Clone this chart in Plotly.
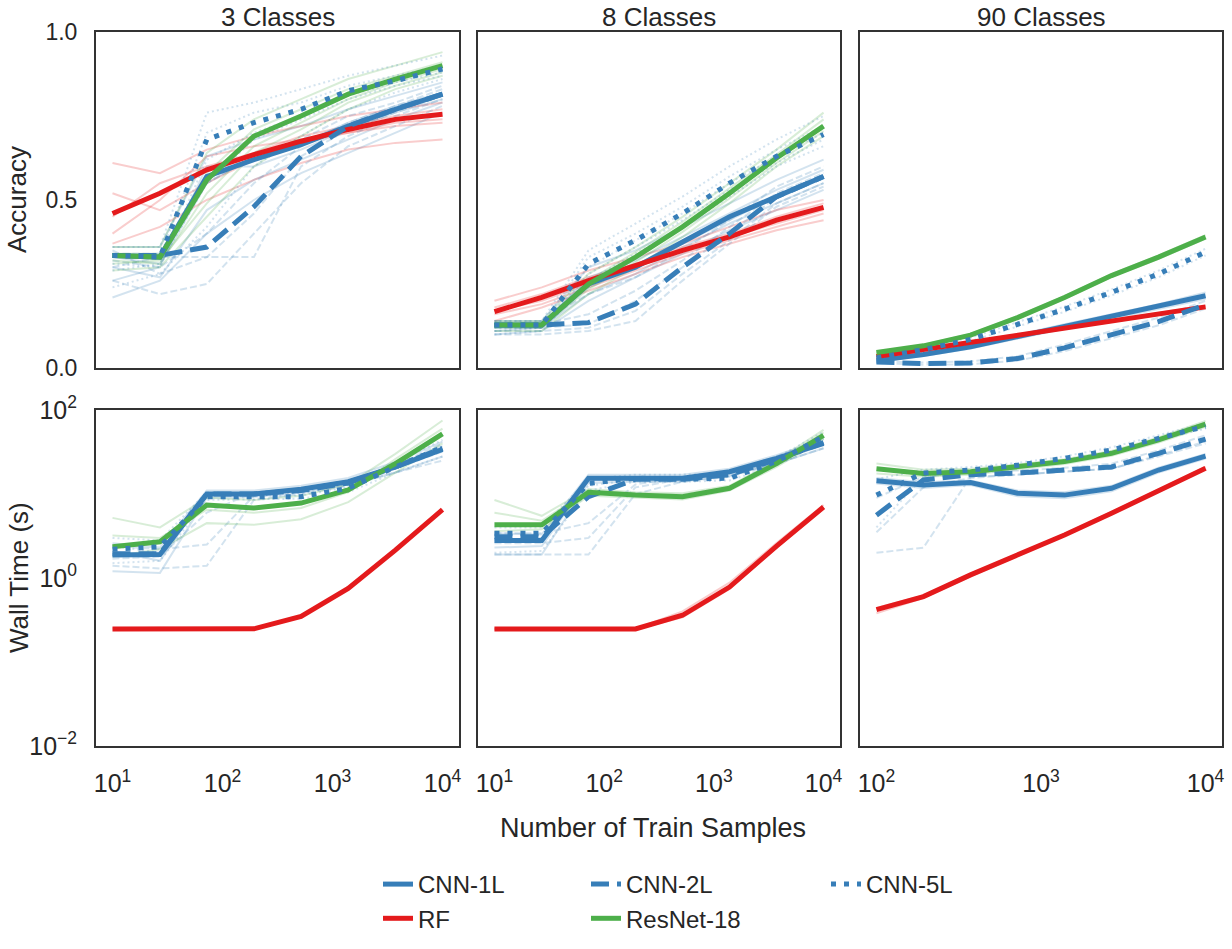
import plotly.graph_objects as go

# ---------------- data ----------------
MODELS = ["CNN-1L", "CNN-2L", "CNN-5L", "RF", "ResNet-18"]
X_SMALL = [10, 27, 72, 193, 518, 1389, 3728, 10000]      # 3 and 8 classes
X_LARGE = [100, 193, 373, 720, 1389, 2683, 5179, 10000]  # 90 classes
COL_TITLES = ["3 Classes", "8 Classes", "90 Classes"]

# Accuracy, 3 classes (mean curves)
acc3_cnn1 = [0.335, 0.33, 0.57, 0.62, 0.665, 0.72, 0.77, 0.815]
acc3_cnn2 = [0.335, 0.335, 0.36, 0.48, 0.63, 0.72, 0.77, 0.815]
acc3_cnn5 = [0.335, 0.33, 0.68, 0.73, 0.77, 0.825, 0.855, 0.89]
acc3_rf = [0.46, 0.52, 0.59, 0.635, 0.675, 0.71, 0.74, 0.755]
acc3_resnet = [0.335, 0.33, 0.56, 0.69, 0.75, 0.815, 0.86, 0.90]
# individual trials (faint)
acc3_cnn1_trials = [[0.36, 0.36, 0.63, 0.68, 0.72, 0.77, 0.81, 0.85],
                    [0.33, 0.31, 0.55, 0.63, 0.67, 0.73, 0.78, 0.82],
                    [0.30, 0.27, 0.47, 0.56, 0.62, 0.68, 0.74, 0.79],
                    [0.26, 0.30, 0.60, 0.60, 0.65, 0.71, 0.76, 0.80],
                    [0.21, 0.26, 0.40, 0.50, 0.58, 0.64, 0.70, 0.76]]
acc3_cnn2_trials = [[0.34, 0.34, 0.55, 0.63, 0.68, 0.75, 0.79, 0.84],
                    [0.32, 0.30, 0.40, 0.55, 0.66, 0.73, 0.78, 0.83],
                    [0.30, 0.33, 0.33, 0.33, 0.60, 0.69, 0.75, 0.80],
                    [0.35, 0.28, 0.33, 0.46, 0.63, 0.71, 0.76, 0.81],
                    [0.26, 0.22, 0.25, 0.40, 0.55, 0.66, 0.72, 0.78]]
acc3_cnn5_trials = [[0.36, 0.36, 0.76, 0.79, 0.83, 0.87, 0.90, 0.93],
                    [0.34, 0.33, 0.70, 0.76, 0.79, 0.84, 0.87, 0.90],
                    [0.31, 0.30, 0.62, 0.70, 0.75, 0.81, 0.85, 0.88],
                    [0.29, 0.31, 0.55, 0.68, 0.74, 0.80, 0.84, 0.87],
                    [0.24, 0.28, 0.42, 0.60, 0.69, 0.77, 0.82, 0.86]]
acc3_rf_trials = [[0.61, 0.58, 0.65, 0.69, 0.72, 0.75, 0.77, 0.79],
                  [0.45, 0.55, 0.60, 0.64, 0.69, 0.72, 0.75, 0.77],
                  [0.52, 0.47, 0.55, 0.62, 0.67, 0.70, 0.73, 0.74],
                  [0.40, 0.50, 0.63, 0.66, 0.68, 0.70, 0.72, 0.73],
                  [0.37, 0.42, 0.50, 0.56, 0.61, 0.65, 0.67, 0.68]]
acc3_resnet_trials = [[0.36, 0.36, 0.64, 0.74, 0.80, 0.86, 0.90, 0.94],
                      [0.34, 0.34, 0.58, 0.71, 0.77, 0.83, 0.87, 0.91],
                      [0.32, 0.31, 0.52, 0.66, 0.73, 0.80, 0.85, 0.89],
                      [0.31, 0.32, 0.49, 0.64, 0.71, 0.79, 0.84, 0.88],
                      [0.29, 0.30, 0.45, 0.60, 0.69, 0.77, 0.83, 0.87]]

# Accuracy, 8 classes
acc8_cnn1 = [0.128, 0.128, 0.25, 0.30, 0.375, 0.45, 0.51, 0.57]
acc8_cnn2 = [0.128, 0.128, 0.135, 0.19, 0.30, 0.40, 0.51, 0.57]
acc8_cnn5 = [0.128, 0.128, 0.31, 0.38, 0.46, 0.55, 0.63, 0.695]
acc8_rf = [0.168, 0.21, 0.26, 0.305, 0.35, 0.39, 0.44, 0.478]
acc8_resnet = [0.128, 0.128, 0.25, 0.33, 0.42, 0.52, 0.625, 0.72]
acc8_cnn1_trials = [[0.14, 0.14, 0.30, 0.35, 0.42, 0.49, 0.56, 0.62],
                    [0.13, 0.13, 0.27, 0.32, 0.39, 0.46, 0.53, 0.59],
                    [0.12, 0.12, 0.24, 0.30, 0.37, 0.44, 0.51, 0.57],
                    [0.11, 0.12, 0.22, 0.28, 0.36, 0.43, 0.49, 0.55],
                    [0.10, 0.11, 0.20, 0.27, 0.34, 0.41, 0.47, 0.53]]
acc8_cnn2_trials = [[0.14, 0.14, 0.22, 0.27, 0.35, 0.44, 0.54, 0.60],
                    [0.13, 0.13, 0.16, 0.23, 0.32, 0.42, 0.52, 0.58],
                    [0.12, 0.12, 0.13, 0.20, 0.30, 0.40, 0.51, 0.57],
                    [0.11, 0.11, 0.12, 0.17, 0.28, 0.38, 0.49, 0.55],
                    [0.10, 0.10, 0.11, 0.14, 0.26, 0.37, 0.48, 0.54]]
acc8_cnn5_trials = [[0.14, 0.14, 0.35, 0.43, 0.51, 0.60, 0.68, 0.75],
                    [0.13, 0.13, 0.33, 0.40, 0.48, 0.57, 0.65, 0.72],
                    [0.12, 0.12, 0.30, 0.38, 0.46, 0.55, 0.63, 0.70],
                    [0.11, 0.12, 0.28, 0.36, 0.44, 0.53, 0.61, 0.68],
                    [0.10, 0.11, 0.26, 0.34, 0.42, 0.51, 0.60, 0.66]]
acc8_rf_trials = [[0.20, 0.24, 0.29, 0.33, 0.37, 0.42, 0.47, 0.50],
                  [0.18, 0.22, 0.27, 0.31, 0.36, 0.40, 0.45, 0.49],
                  [0.17, 0.20, 0.25, 0.30, 0.35, 0.39, 0.43, 0.47],
                  [0.16, 0.19, 0.24, 0.29, 0.34, 0.38, 0.42, 0.46],
                  [0.14, 0.18, 0.23, 0.28, 0.33, 0.37, 0.41, 0.44]]
acc8_resnet_trials = [[0.14, 0.14, 0.28, 0.36, 0.45, 0.55, 0.65, 0.76],
                      [0.135, 0.135, 0.26, 0.345, 0.435, 0.535, 0.635, 0.74],
                      [0.13, 0.13, 0.25, 0.33, 0.42, 0.52, 0.62, 0.72],
                      [0.12, 0.12, 0.235, 0.315, 0.405, 0.505, 0.61, 0.705],
                      [0.11, 0.11, 0.22, 0.30, 0.39, 0.49, 0.60, 0.69]]

# Accuracy, 90 classes
acc90_cnn1 = [0.022, 0.04, 0.063, 0.093, 0.123, 0.153, 0.182, 0.215]
acc90_cnn2 = [0.018, 0.013, 0.015, 0.028, 0.06, 0.098, 0.138, 0.188]
acc90_cnn5 = [0.03, 0.055, 0.085, 0.13, 0.175, 0.225, 0.28, 0.345]
acc90_rf = [0.034, 0.055, 0.075, 0.097, 0.118, 0.14, 0.16, 0.182]
acc90_resnet = [0.046, 0.066, 0.098, 0.15, 0.21, 0.275, 0.33, 0.39]
acc90_cnn1_trials = [[0.025, 0.045, 0.068, 0.10, 0.13, 0.16, 0.19, 0.225],
                     [0.019, 0.036, 0.058, 0.087, 0.116, 0.146, 0.175, 0.205]]
acc90_cnn2_trials = [[0.02, 0.016, 0.02, 0.035, 0.07, 0.11, 0.15, 0.20],
                     [0.015, 0.01, 0.011, 0.022, 0.05, 0.088, 0.127, 0.177]]
acc90_cnn5_trials = [[0.034, 0.06, 0.09, 0.137, 0.183, 0.234, 0.29, 0.355],
                     [0.026, 0.05, 0.08, 0.123, 0.167, 0.216, 0.27, 0.335]]
acc90_rf_trials = [[0.036, 0.057, 0.078, 0.10, 0.121, 0.143, 0.163, 0.185],
                   [0.032, 0.053, 0.072, 0.094, 0.115, 0.137, 0.157, 0.179]]
acc90_resnet_trials = [[0.048, 0.069, 0.101, 0.154, 0.214, 0.279, 0.335, 0.395],
                       [0.044, 0.063, 0.095, 0.146, 0.206, 0.271, 0.325, 0.385]]

# Wall time (s), 3 classes
time3_cnn1 = [1.88, 1.9, 10, 10, 11.4, 14, 21, 34]
time3_cnn2 = [1.95, 1.95, 10, 10, 11, 13.5, 21, 35]
time3_cnn5 = [2.2, 2.35, 9.3, 9.3, 9.3, 11.7, 21, 36]
time3_rf = [0.247, 0.25, 0.248, 0.248, 0.35, 0.75, 2.15, 6.5]
time3_resnet = [2.35, 2.7, 7.4, 6.8, 7.8, 11.2, 23, 52]
time3_cnn1_trials = [[2.6, 2.3, 11, 11, 12.5, 15.5, 24, 42],
                     [2.1, 1.6, 10.3, 10.4, 11.8, 14.5, 22, 37],
                     [1.2, 1.15, 9, 9.2, 10.5, 13, 18, 28]]
time3_cnn2_trials = [[2.4, 2.2, 2.5, 9.5, 11, 14, 22, 40],
                     [1.7, 1.8, 6, 10.5, 11.5, 14, 20, 32],
                     [1.4, 1.3, 1.4, 8.5, 10, 12.5, 18, 25]]
time3_cnn5_trials = [[3.0, 2.8, 10.5, 10, 10.2, 13, 24, 44],
                     [2.4, 2.0, 9.8, 9.6, 9.6, 12, 20, 33],
                     [1.5, 1.6, 8.5, 8.6, 8.8, 10.5, 18, 28]]
time3_rf_trials = [[0.25, 0.255, 0.25, 0.25, 0.355, 0.76, 2.2, 6.6]]
time3_resnet_trials = [[5.2, 4.0, 9, 8.5, 9.5, 13, 30, 75],
                       [3.2, 3.0, 6.5, 6.0, 6.8, 10.5, 26, 60],
                       [1.8, 2.2, 4.5, 4.3, 5, 8, 18, 40]]

# Wall time (s), 8 classes
time8_cnn1 = [2.8, 2.8, 15.4, 15.4, 15.4, 18.4, 26.6, 40]
time8_cnn2 = [3.1, 3.1, 9.3, 15, 15, 17, 25.6, 41]
time8_cnn5 = [3.4, 3.4, 13.4, 15.4, 15, 15.4, 24.4, 48]
time8_rf = [0.247, 0.247, 0.247, 0.247, 0.36, 0.78, 2.4, 7.0]
time8_resnet = [4.3, 4.3, 10.5, 9.7, 9.3, 11.7, 23, 50]
time8_cnn1_trials = [[3.4, 3.3, 17, 17, 17, 20, 29, 45],
                     [2.3, 2.4, 14.5, 14.8, 15, 17.5, 25, 38],
                     [1.9, 1.9, 13.5, 14, 14, 16.5, 23, 35]]
time8_cnn2_trials = [[3.4, 3.4, 4.5, 13, 16, 18.5, 28, 46],
                     [2.6, 2.6, 3.0, 12, 15, 17, 25, 40],
                     [1.9, 1.9, 1.9, 10, 14, 16, 23, 35]]
time8_cnn5_trials = [[4.0, 4.0, 15, 17, 17, 17.5, 27, 55],
                     [2.8, 3.0, 12.5, 15, 15.5, 16, 25, 46],
                     [2.0, 2.1, 11, 14, 14, 14.5, 22, 42]]
time8_rf_trials = [[0.25, 0.25, 0.25, 0.25, 0.40, 0.88, 2.6, 7.4],
                   [0.245, 0.245, 0.245, 0.245, 0.34, 0.74, 2.3, 6.7]]
time8_resnet_trials = [[8.5, 5.5, 11.5, 10.5, 10.2, 12.5, 25, 58],
                       [6.0, 4.8, 11, 10, 9.8, 12, 24, 54],
                       [3.6, 3.8, 9.5, 9, 8.6, 11, 21, 45]]

# Wall time (s), 90 classes
time90_cnn1 = [14.4, 12.8, 13.7, 10.2, 9.7, 11.7, 19.3, 28.3]
time90_cnn2 = [5.6, 14.7, 17, 17.8, 19.3, 21, 30.5, 45]
time90_cnn5 = [9.7, 17.8, 19.3, 22, 26.6, 33.4, 46, 64]
time90_rf = [0.42, 0.6, 1.09, 1.88, 3.25, 5.9, 10.9, 20.2]
time90_resnet = [20, 17.6, 18.4, 21, 24.3, 30.5, 44, 68]
time90_cnn1_trials = [[15.5, 13.8, 14.5, 11, 10.5, 12.5, 20.5, 30],
                      [13.3, 11.8, 12.8, 9.4, 8.9, 10.8, 18, 26.5]]
time90_cnn2_trials = [[2.0, 2.3, 16, 17, 18.5, 20, 28, 40],
                      [3.5, 12, 15.5, 17, 18.5, 20, 29, 42],
                      [9, 16, 18, 19, 20.5, 23, 33, 50]]
time90_cnn5_trials = [[4.0, 16, 18.5, 21, 25.5, 32, 44, 60],
                      [15, 19.5, 21, 23.5, 28, 36, 50, 70]]
time90_rf_trials = [[0.44, 0.62, 1.12, 1.92, 3.35, 6.1, 11.4, 21],
                    [0.38, 0.58, 1.05, 1.84, 3.18, 5.8, 10.6, 19.8]]
time90_resnet_trials = [[23, 19.5, 20, 22.5, 26, 32.5, 47, 74],
                        [17.5, 16, 17, 19.5, 22.8, 28.5, 41, 63]]

# ---------------- styling ----------------
W, H = 1232, 949
FONT = "Liberation Sans, Arial, sans-serif"
TXT = "#262626"
COLORS = {"CNN-1L": "rgb(55,126,184)", "CNN-2L": "rgb(55,126,184)",
          "CNN-5L": "rgb(55,126,184)", "RF": "rgb(228,26,28)",
          "ResNet-18": "rgb(77,175,74)"}
FAINT = {"CNN-1L": "rgba(55,126,184,0.22)", "CNN-2L": "rgba(55,126,184,0.22)",
         "CNN-5L": "rgba(55,126,184,0.22)", "RF": "rgba(228,26,28,0.22)",
         "ResNet-18": "rgba(77,175,74,0.22)"}
DASH_BOLD = {"CNN-1L": "solid", "CNN-2L": "18px,8px", "CNN-5L": "5px,8px",
             "RF": "solid", "ResNet-18": "solid"}
DASH_FAINT = {"CNN-1L": "solid", "CNN-2L": "7px,3px", "CNN-5L": "2px,3px",
              "RF": "solid", "ResNet-18": "solid"}
LEGEND_OF = {"CNN-1L": "legend", "RF": "legend", "CNN-2L": "legend2",
             "ResNet-18": "legend2", "CNN-5L": "legend3"}
DRAW_ORDER = ["CNN-1L", "RF", "CNN-2L", "ResNet-18", "CNN-5L"]

panels = [
    # (row, col, x, {model: (mean, trials)})
    (1, 1, X_SMALL, {"CNN-1L": (acc3_cnn1, acc3_cnn1_trials), "CNN-2L": (acc3_cnn2, acc3_cnn2_trials),
                     "CNN-5L": (acc3_cnn5, acc3_cnn5_trials), "RF": (acc3_rf, acc3_rf_trials),
                     "ResNet-18": (acc3_resnet, acc3_resnet_trials)}),
    (1, 2, X_SMALL, {"CNN-1L": (acc8_cnn1, acc8_cnn1_trials), "CNN-2L": (acc8_cnn2, acc8_cnn2_trials),
                     "CNN-5L": (acc8_cnn5, acc8_cnn5_trials), "RF": (acc8_rf, acc8_rf_trials),
                     "ResNet-18": (acc8_resnet, acc8_resnet_trials)}),
    (1, 3, X_LARGE, {"CNN-1L": (acc90_cnn1, acc90_cnn1_trials), "CNN-2L": (acc90_cnn2, acc90_cnn2_trials),
                     "CNN-5L": (acc90_cnn5, acc90_cnn5_trials), "RF": (acc90_rf, acc90_rf_trials),
                     "ResNet-18": (acc90_resnet, acc90_resnet_trials)}),
    (2, 1, X_SMALL, {"CNN-1L": (time3_cnn1, time3_cnn1_trials), "CNN-2L": (time3_cnn2, time3_cnn2_trials),
                     "CNN-5L": (time3_cnn5, time3_cnn5_trials), "RF": (time3_rf, time3_rf_trials),
                     "ResNet-18": (time3_resnet, time3_resnet_trials)}),
    (2, 2, X_SMALL, {"CNN-1L": (time8_cnn1, time8_cnn1_trials), "CNN-2L": (time8_cnn2, time8_cnn2_trials),
                     "CNN-5L": (time8_cnn5, time8_cnn5_trials), "RF": (time8_rf, time8_rf_trials),
                     "ResNet-18": (time8_resnet, time8_resnet_trials)}),
    (2, 3, X_LARGE, {"CNN-1L": (time90_cnn1, time90_cnn1_trials), "CNN-2L": (time90_cnn2, time90_cnn2_trials),
                     "CNN-5L": (time90_cnn5, time90_cnn5_trials), "RF": (time90_rf, time90_rf_trials),
                     "ResNet-18": (time90_resnet, time90_resnet_trials)}),
]

# panel pixel boxes
COL_PX = [(96, 459), (478, 840), (860, 1222)]
ROW_PX = [(32, 368), (410, 746)]


def axis_id(row, col):
    n = (row - 1) * 3 + col
    return ("x" if n == 1 else f"x{n}"), ("y" if n == 1 else f"y{n}"), n


fig = go.Figure()

for row, col, xs, data in panels:
    xa, ya, n = axis_id(row, col)
    # faint individual trials first
    for m in DRAW_ORDER:
        for tr in data[m][1]:
            fig.add_trace(go.Scatter(
                x=xs, y=tr, mode="lines", xaxis=xa, yaxis=ya,
                line=dict(color=FAINT[m], width=2, dash=DASH_FAINT[m]),
                showlegend=False, hoverinfo="skip"))
    # bold mean curves
    for m in DRAW_ORDER:
        fig.add_trace(go.Scatter(
            x=xs, y=data[m][0], mode="lines", xaxis=xa, yaxis=ya, name=m,
            line=dict(color=COLORS[m], width=5, dash=DASH_BOLD[m]),
            legend=LEGEND_OF[m], showlegend=(n == 1), legendgroup=m))

tick_font = dict(family=FONT, size=23, color=TXT)
log_tick_font = dict(family=FONT, size=25, color=TXT)
layout = dict(
    width=W, height=H, margin=dict(l=0, r=0, t=0, b=0, autoexpand=False),
    paper_bgcolor="white", plot_bgcolor="white",
    font=dict(family=FONT, color=TXT),
    showlegend=True,
)

for row in (1, 2):
    for col in (1, 2, 3):
        xa, ya, n = axis_id(row, col)
        x0, x1 = COL_PX[col - 1]
        y0, y1 = ROW_PX[row - 1]
        xkey = "xaxis" if n == 1 else f"xaxis{n}"
        ykey = "yaxis" if n == 1 else f"yaxis{n}"
        if col < 3:
            xr = [0.85, 4.15]
            xt = [10, 100, 1000, 10000]
            xtt = ["10<sup>1</sup>", "10<sup>2</sup>", "10<sup>3</sup>", "10<sup>4</sup>"]
        else:
            xr = [1.9, 4.1]
            xt = [100, 1000, 10000]
            xtt = ["10<sup>2</sup>", "10<sup>3</sup>", "10<sup>4</sup>"]
        layout[xkey] = dict(
            domain=[x0 / W, x1 / W], anchor=ya, type="log", range=xr,
            tickvals=xt, ticktext=xtt, showticklabels=(row == 2),
            showgrid=False, zeroline=False, showline=True, mirror=True,
            linecolor="#333333", linewidth=2, ticks="", tickfont=log_tick_font,
            ticklabelstandoff=14)
        if row == 1:
            ydict = dict(range=[0, 1], tickvals=[0, 0.5, 1.0],
                         ticktext=["0.0", "0.5", "1.0"], tickfont=tick_font)
        else:
            ydict = dict(type="log", range=[-2, 2], tickvals=[0.01, 1, 100],
                         ticktext=["10<sup>\u22122</sup>", "10<sup>0</sup>", "10<sup>2</sup>"],
                         tickfont=log_tick_font)
        layout[ykey] = dict(
            domain=[1 - y1 / H, 1 - y0 / H], anchor=xa,
            showticklabels=(col == 1), showgrid=False, zeroline=False,
            showline=True, mirror=True, linecolor="#333333", linewidth=2,
            ticks="", ticklabelstandoff=12, **ydict)

annotations = []
for i, t in enumerate(COL_TITLES):
    x0, x1 = COL_PX[i]
    annotations.append(dict(text=t, x=(x0 + x1) / 2 / W, y=1 - 17 / H, xref="paper", yref="paper",
                            showarrow=False, xanchor="center", yanchor="middle",
                            font=dict(family=FONT, size=26, color=TXT)))
annotations.append(dict(text="Accuracy", x=17 / W, y=1 - 200 / H, xref="paper", yref="paper",
                        showarrow=False, textangle=-90, xanchor="center", yanchor="middle",
                        font=dict(family=FONT, size=26, color=TXT)))
annotations.append(dict(text="Wall Time (s)", x=19 / W, y=1 - 578 / H, xref="paper", yref="paper",
                        showarrow=False, textangle=-90, xanchor="center", yanchor="middle",
                        font=dict(family=FONT, size=26, color=TXT)))
annotations.append(dict(text="Number of Train Samples", x=653 / W, y=1 - 828 / H, xref="paper",
                        yref="paper", showarrow=False, xanchor="center", yanchor="middle",
                        font=dict(family=FONT, size=27, color=TXT)))
layout["annotations"] = annotations

leg_common = dict(orientation="v", yanchor="top", xanchor="left", bgcolor="rgba(0,0,0,0)",
                  font=dict(family=FONT, size=24, color=TXT), tracegroupgap=0,
                  itemwidth=30)
layout["legend"] = dict(x=378 / W, y=1 - 862 / H, **leg_common)
layout["legend2"] = dict(x=586 / W, y=1 - 862 / H, **leg_common)
layout["legend3"] = dict(x=826 / W, y=1 - 862 / H, **leg_common)

fig.update_layout(**layout)
fig.write_html("out.html")
